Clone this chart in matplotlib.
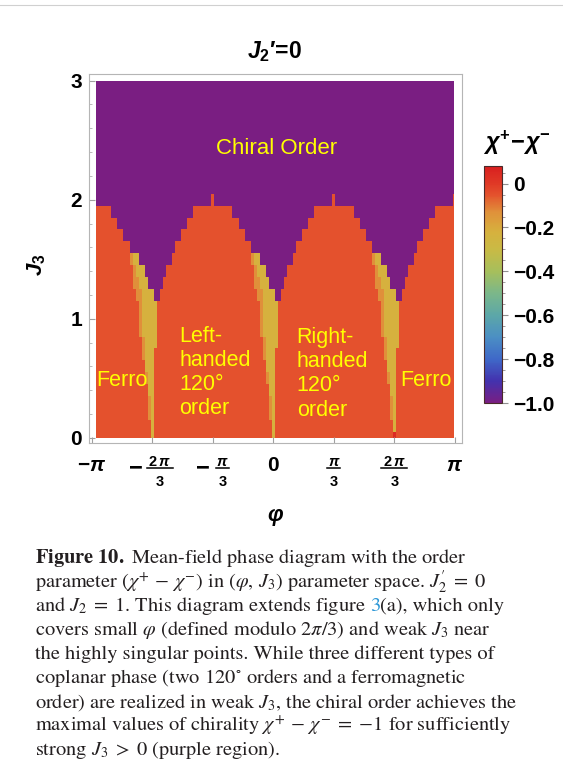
import numpy as np
import matplotlib
matplotlib.use('Agg')
import matplotlib.pyplot as plt
from matplotlib.colors import LinearSegmentedColormap, Normalize
from matplotlib.patches import Rectangle
from matplotlib.ticker import MultipleLocator

plt.rcParams['mathtext.fontset'] = 'custom'
plt.rcParams['mathtext.rm'] = 'Liberation Sans:bold'
plt.rcParams['mathtext.it'] = 'Liberation Sans:italic:bold'
plt.rcParams['mathtext.bf'] = 'Liberation Sans:bold'
plt.rcParams['font.family'] = ['Liberation Sans', 'DejaVu Sans']

# scan grid: phi in steps of pi/60, J3 in steps of 0.1
phi = np.linspace(-np.pi, np.pi, 121)
j3 = np.round(np.arange(0, 3.01, 0.1), 2)

# highest J3 that is still coplanar (above it: chiral order), one value per phi column
chiral_top = [
    1.9, 1.9, 1.9, 1.9, 1.9, 1.9, 1.9, 1.8, 1.8, 1.7, 1.7, 1.6, 1.6, 1.5, 1.5, 1.5, 1.4, 1.4, 1.3, 1.2,
    1.2, 1.1, 1.1, 1.2, 1.3, 1.4, 1.4, 1.5, 1.6, 1.6, 1.7, 1.7, 1.8, 1.8, 1.9, 1.9, 1.9, 1.9, 1.9, 1.9,
    2.0, 1.9, 1.9, 1.9, 1.9, 1.9, 1.9, 1.8, 1.8, 1.7, 1.7, 1.6, 1.6, 1.5, 1.5, 1.5, 1.4, 1.4, 1.3, 1.2,
    1.2, 1.1, 1.1, 1.2, 1.3, 1.4, 1.4, 1.5, 1.6, 1.6, 1.7, 1.7, 1.8, 1.8, 1.9, 1.9, 1.9, 1.9, 1.9, 1.9,
    2.0, 1.9, 1.9, 1.9, 1.9, 1.9, 1.9, 1.8, 1.8, 1.7, 1.7, 1.6, 1.6, 1.5, 1.5, 1.5, 1.4, 1.4, 1.3, 1.2,
    1.2, 1.1, 1.1, 1.2, 1.3, 1.4, 1.4, 1.5, 1.6, 1.6, 1.7, 1.7, 1.8, 1.8, 1.9, 1.9, 1.9, 1.9, 1.9, 1.9,
    2.0,
]

# partially chiral wedge next to the singular points (columns at -2pi/3, 0, 2pi/3)
singular_cols = [20, 60, 100]
wedge_light_from = [0, 0, -1, -1, -1, -2, -2, -3, -3, -4, -4, -4, -5, -6, -6, -7]
wedge_core_from = [0, 0, 0, 0, -1, -1, -2, -2, -2, -3, -3, -3, -3, -4, -5, -6]
wedge_to = [0, 0, 0, 0, 0, 0, 0, 0, 1, 1, 1, 1, 1, 1, 1, 1]

val_coplanar = -0.05
val_chiral = -1.0
val_light = -0.13
val_core = -0.22
val_red = 0.05

Z = np.full((len(j3), len(phi)), val_coplanar)
for s in singular_cols:
    for r in range(len(wedge_to)):
        Z[r, s + wedge_light_from[r]:s + wedge_core_from[r]] = val_light
        Z[r, s + wedge_core_from[r]:s + wedge_to[r] + 1] = val_core
for c in range(len(phi)):
    Z[j3 > chiral_top[c] + 1e-9, c] = val_chiral
Z[0, 100] = val_red

stops = [(-1.0, '#7a1e82'), (-0.9, '#4332ae'), (-0.8, '#3f68c8'), (-0.7, '#4b8fc4'),
         (-0.6, '#5ca7a8'), (-0.5, '#7bb78a'), (-0.4, '#a6bf5c'), (-0.3, '#c9ba45'),
         (-0.22, '#d6b13e'), (-0.13, '#e0913a'), (-0.05, '#e4522d'), (0.0, '#e03a26'),
         (0.08, '#d91f1f')]
vmin, vmax = -1.0, 0.08
cmap = LinearSegmentedColormap.from_list(
    'rainbow_m', [((v - vmin) / (vmax - vmin), c) for v, c in stops])
norm = Normalize(vmin, vmax)

W, H = 563, 784
fig = plt.figure(figsize=(W / 100, H / 100), dpi=100)
fig.add_artist(plt.Line2D([0, 1], [1 - 5 / H, 1 - 5 / H], color='#d0d0d0', lw=0.8))

ax = fig.add_axes([0.1581, 0.4349, 0.6625, 0.4707])
dphi = phi[1] - phi[0]
dj = j3[1] - j3[0]
x_edges = np.concatenate([[phi[0] - dphi / 2], (phi[:-1] + phi[1:]) / 2, [phi[-1] + dphi / 2]])
y_edges = np.concatenate([[j3[0] - dj / 2], (j3[:-1] + j3[1:]) / 2, [j3[-1] + dj / 2]])
mesh = ax.pcolormesh(x_edges, y_edges, Z, cmap=cmap, norm=norm, shading='flat',
                     edgecolors='none', linewidth=0, antialiased=False)
clip = Rectangle((-np.pi + 0.069, 0), 2 * np.pi - 0.081, 3, transform=ax.transData)
mesh.set_clip_path(clip)

ax.set_xlim(-np.pi - 0.0467, np.pi + 0.121)
ax.set_ylim(-0.0445, 3.056)
for sp in ax.spines.values():
    sp.set_color('#b5b5b5')
    sp.set_linewidth(0.8)

xt = [-np.pi, -2 * np.pi / 3, -np.pi / 3, 0, np.pi / 3, 2 * np.pi / 3, np.pi]
ax.set_xticks(xt, [r'$-\pi$', '', '', r'$0$', '', '', r'$\pi$'], fontsize=15)
for lbl in ax.get_xticklabels():
    lbl.set_verticalalignment('center')
ax.tick_params(axis='x', direction='in', length=4, color='#a0a0a0', pad=16.5)
ax.set_yticks([0, 1, 2, 3], ['0', '1', '2', '3'], fontsize=15, fontweight='bold')
ax.yaxis.set_minor_locator(MultipleLocator(0.2))
ax.tick_params(axis='y', which='major', direction='in', length=4, color='#a0a0a0', pad=5)
ax.tick_params(axis='y', which='minor', direction='in', length=2, color='#b0b0b0')

# stacked fraction tick labels, drawn in pixel space around each tick
frac_ticks = [-2 * np.pi / 3, -np.pi / 3, np.pi / 3, 2 * np.pi / 3]
frac_num = [r'$2\,\pi$', r'$\pi$', r'$\pi$', r'$2\,\pi$']
frac_minus = [True, True, False, False]
for x, num, neg in zip(frac_ticks, frac_num, frac_minus):
    xp = ax.transData.transform((x, 0))[0]
    wide = '2' in num
    half = 13 if wide else 6.5
    if neg:
        fc = xp + (7.6 if wide else 9.5)
        mc = xp - (16.9 if wide else 10.2)
        fig.text(mc, H - 467, r'$-$', fontsize=17, ha='center', va='center', transform=None)
    else:
        fc = xp
    fig.text(fc, H - 461.7, num, fontsize=10.5, ha='center', va='center', transform=None)
    fig.add_artist(plt.Line2D([fc - half, fc + half], [H - 467.5, H - 467.5],
                              color='black', lw=1.1, transform=None))
    fig.text(fc, H - 481.7, r'$3$', fontsize=10.5, ha='center', va='center', transform=None)

yel = '#ffff00'
ax.text(0.06, 2.43, 'Chiral Order', color=yel, fontsize=16, ha='center', va='center')
ax.text(-3.067, 0.48, 'Ferro', color=yel, fontsize=15.5, ha='left', va='center')
ax.text(2.19, 0.48, 'Ferro', color=yel, fontsize=15.5, ha='left', va='center')
ax.text(-1.627, 0.548, 'Left-\nhanded\n120°\norder', color=yel, fontsize=15.5,
        ha='left', va='center', linespacing=1.2)
ax.text(0.404, 0.537, 'Right-\nhanded\n120°\norder', color=yel, fontsize=15.5,
        ha='left', va='center', linespacing=1.2)

fig.text(274 / W, 1 - 52 / H, r"$J_2$′=0", fontsize=16.5, fontweight='bold',
         ha='center', va='center')
fig.text(275 / W, 1 - 516 / H, 'φ', fontsize=16, fontweight='bold', style='italic',
         ha='center', va='center')
fig.text(37 / W, 1 - 265 / H, r'$J_3$', fontsize=16, rotation=90,
         ha='center', va='center')

# colour bar
cax = fig.add_axes([0.860, 0.4856, 0.031, 0.3027])
cb = fig.colorbar(mesh, cax=cax)
cb.outline.set_edgecolor('#4a2a2a')
cb.outline.set_linewidth(0.8)
cb_ticks = [0, -0.2, -0.4, -0.6, -0.8, -1.0]
cb_labels = ['0', '−0.2', '−0.4', '−0.6', '−0.8', '−1.0']
cb.set_ticks(cb_ticks, labels=cb_labels)
cax.yaxis.set_minor_locator(MultipleLocator(0.05))
cax.tick_params(which='major', length=4, color='#909090', pad=4, labelsize=15)
cax.tick_params(which='minor', length=2, color='#909090')
for lbl in cax.get_yticklabels():
    lbl.set_fontweight('bold')
fig.text(517 / W, 1 - 143 / H, r'$\chi^{+}\!-\!\chi^{-}$', fontsize=17,
         ha='center', va='center')

# caption
cap_kw = dict(fontsize=14.65, family='STIXGeneral', math_fontfamily='stix',
              color='#231f20', va='baseline', ha='left')
cap_x = 35 / W
cap_lines = [
    r"$\mathbf{Figure\ 10.}$ Mean-field phase diagram with the order",
    r"parameter $(\chi^{+}\,-\,\chi^{-})$ in $(\varphi,\,J_3)$ parameter space. $J_2'\;=\;0$",
    None,
    r"covers small $\varphi$ (defined modulo $2\pi/3$) and weak $J_3$ near",
    r"the highly singular points. While three different types of",
    r"coplanar phase (two 120$^{\circ}$ orders and a ferromagnetic",
    r"order) are realized in weak $J_3$, the chiral order achieves the",
    r"maximal values of chirality $\chi^{+}\,-\,\chi^{-}\;=\;{-1}$ for sufficiently",
    r"strong $J_3\;>\;0$ (purple region).",
]
renderer = fig.canvas.get_renderer()
for i, line in enumerate(cap_lines):
    yb = 1 - (563.3 + 24 * i) / H
    if line is not None:
        fig.text(cap_x, yb, line, **cap_kw)
    else:
        pre = r"and $J_2\;=\;1$. This diagram extends figure "
        fig.text(cap_x, yb, pre, **cap_kw)
        probe = fig.text(cap_x, yb, pre + "3", alpha=0, **cap_kw)
        x1 = probe.get_window_extent(renderer).x1 / fig.bbox.width
        kw = dict(cap_kw)
        kw['ha'] = 'right'
        kw['color'] = '#2a96d6'
        fig.text(x1, yb, "3", **kw)
        fig.text(x1, yb, "(a), which only", **cap_kw)

fig.savefig('out.png', dpi=100)
